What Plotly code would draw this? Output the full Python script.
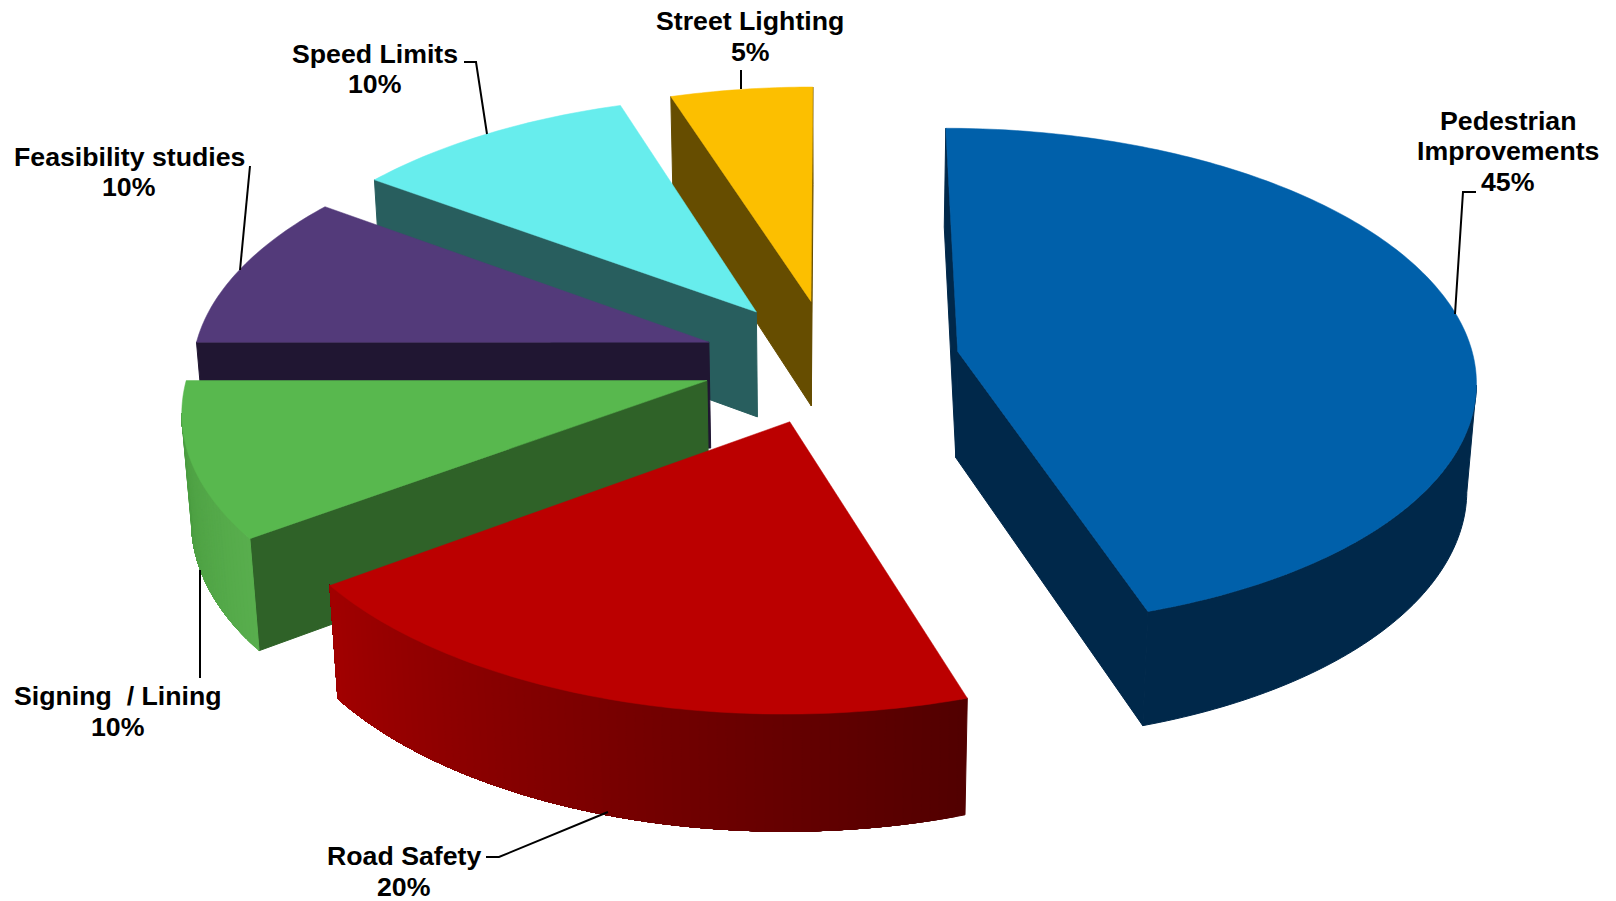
import numpy as np
import plotly.graph_objects as go

# pie data, clockwise from 12 o'clock
names = ["Pedestrian Improvements", "Road Safety", "Signing  / Lining",
         "Feasibility studies", "Speed Limits", "Street Lighting"]
shares = [45, 20, 10, 10, 10, 5]

# slice colours: top face, flat side, round side at start and end of the slice
top_colors = ["#0060aa", "#bb0000", "#58b84e", "#533a7a", "#67eded", "#fcbf00"]
side_colors = ["#00284a", "#500000", "#2f6228", "#201632", "#285e5e", "#664d00"]
rim_start = ["#00284a", "#520000", "#58ae4d", "#201632", "#285e5e", "#664d00"]
rim_end = ["#00284a", "#a20000", "#4a9c40", "#201632", "#285e5e", "#664d00"]

# painter order, back to front
draw_order = [5, 4, 3, 2, 1, 0]

# label lines: x, y centre of every text line
label_lines = [
    [("Pedestrian", 1508, 121), ("Improvements", 1508, 151), ("45%", 1508, 182)],
    [("Road Safety", 404, 856), ("20%", 404, 887)],
    [("Signing\u00a0 / Lining", 118, 696), ("10%", 118, 727)],
    [("Feasibility studies", 129, 157), ("10%", 129, 187)],
    [("Speed Limits", 375, 54), ("10%", 375, 84)],
    [("Street Lighting", 750, 21), ("5%", 750, 52)],
]

leaders = [
    [(1476, 192), (1463, 192), (1455, 314)],
    [(486, 857), (499, 857), (608, 812)],
    [(200, 570), (200, 678)],
    [(250, 166), (240, 270)],
    [(464, 62), (476, 62), (487, 134)],
    [(741, 89), (741, 70)],
]

# projection of the tilted pie
cx, cy = 830.7, 361.2
scale_x, scale_y = 516.5, 248.4
depth = 106.5
persp = 0.104
persp_z = 0.015
explode = 0.25


def project(X, Y, Z):
    w = 1 + persp * Y + persp_z * Z
    u = cx + scale_x * X / w
    v = cy - scale_y * Y / w + depth * Z / (1 + persp * Y) ** 1.05
    return u, v


def mix(c1, c2, f):
    a = [int(c1[i:i + 2], 16) for i in (1, 3, 5)]
    b = [int(c2[i:i + 2], 16) for i in (1, 3, 5)]
    return "rgb(%d,%d,%d)" % tuple(round(a[i] + (b[i] - a[i]) * f) for i in range(3))


def add_face(fig, x, y, color, edge=1):
    fig.add_trace(go.Scatter(x=x, y=y, mode="lines", fill="toself", fillcolor=color,
                             line=dict(color=color, width=edge, simplify=False),
                             hoverinfo="skip", showlegend=False))


fig = go.Figure()

ends = np.cumsum(shares) / np.sum(shares) * 2 * np.pi
starts = ends - np.array(shares) / np.sum(shares) * 2 * np.pi

for i in draw_order:
    a, b = starts[i], ends[i]
    mid = (a + b) / 2
    ox, oy = explode * np.sin(mid), explode * np.cos(mid)
    t = np.linspace(a, b, max(int(shares[i] * 4), 24))
    ax, ay = ox + np.sin(t), oy + np.cos(t)

    # flat sides, only the ones turned to the viewer
    for edge, normal in ((a, a - np.pi / 2), (b, b + np.pi / 2)):
        if np.cos(normal) <= 1e-6:
            ex, ey = ox + np.sin(edge), oy + np.cos(edge)
            u, v = project(np.array([ox, ex, ex, ox, ox]), np.array([oy, ey, ey, oy, oy]),
                           np.array([0, 0, 1, 1, 0]))
            add_face(fig, u, v, side_colors[i])

    # round side, visible from the rightmost to the leftmost point of the arc.
    # each band runs to the end and the next one paints over it, so no seams
    u_top = project(ax, ay, 0)[0]
    first = int(np.argmax(u_top))
    last = first + int(np.argmin(u_top[first:]))
    if last > first:
        front = np.arange(first, last + 1)
        n = len(front)
        step = 1 if rim_start[i] != rim_end[i] else n
        for k in range(0, n - 1, step):
            idx = front[k:]
            xs = np.r_[ax[idx], ax[idx][::-1], ax[idx][0]]
            ys = np.r_[ay[idx], ay[idx][::-1], ay[idx][0]]
            zs = np.r_[np.zeros(len(idx)), np.ones(len(idx)), 0]
            u, v = project(xs, ys, zs)
            add_face(fig, u, v, mix(rim_start[i], rim_end[i], k / (n - 1)))

    # top face
    u, v = project(np.r_[ox, ax, ox], np.r_[oy, ay, oy], np.zeros(len(t) + 2))
    add_face(fig, u, v, top_colors[i], edge=0.5)

for pts in leaders:
    path = "M " + " L ".join("%g,%g" % p for p in pts)
    fig.add_shape(type="path", path=path, line=dict(color="black", width=2), layer="above")

for lines in label_lines:
    for text, x, y in lines:
        fig.add_annotation(x=x, y=y, text=text, showarrow=False, xanchor="center", yanchor="middle",
                           font=dict(family="Liberation Sans", size=26.7, color="black", weight="bold"))

fig.update_xaxes(range=[0, 1616], visible=False, fixedrange=True)
fig.update_yaxes(range=[901, 0], visible=False, fixedrange=True)
fig.update_layout(width=1616, height=901, margin=dict(l=0, r=0, t=0, b=0),
                  paper_bgcolor="white", plot_bgcolor="white", showlegend=False)

fig.write_html("out.html", config={"displayModeBar": False},
               post_script="document.body.style.margin='0';document.body.style.overflow='hidden';")
